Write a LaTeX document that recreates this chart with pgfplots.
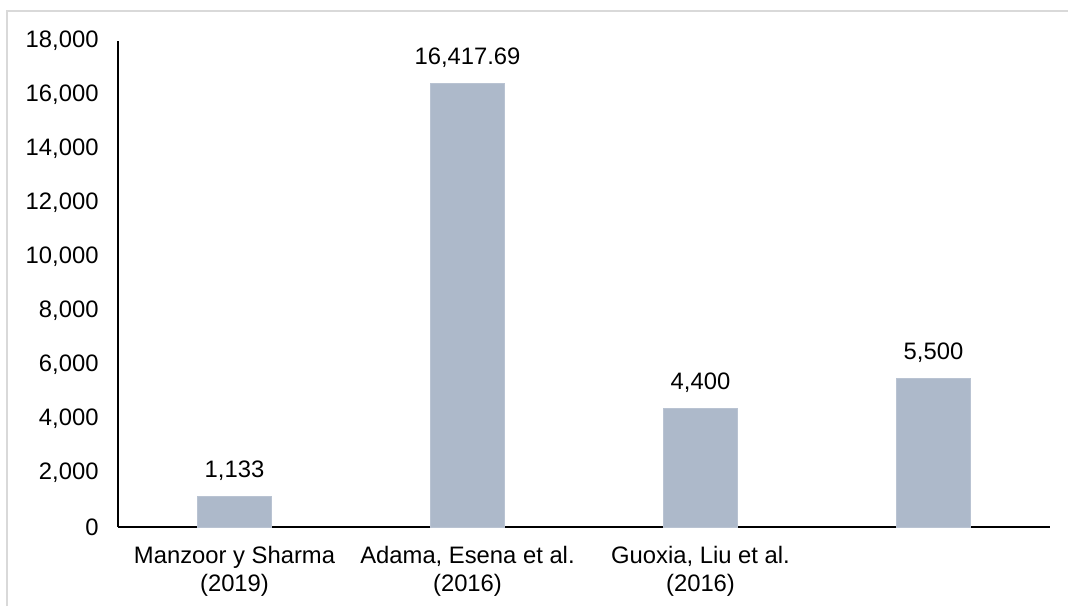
\documentclass[border=0pt]{standalone}
\usepackage{pgfplots}
\pgfplotsset{compat=1.18}
\usepackage{fontspec}
\setmainfont{Liberation Sans}
\definecolor{barfill}{HTML}{ADB9CA}
\definecolor{frameline}{HTML}{D9D9D9}

\begin{document}
\begin{tikzpicture}[font=\fontsize{11.9}{14}\selectfont]
  % page area and the chart frame
  \path[use as bounding box] (0,0) rectangle (534pt,303pt);
  \draw[frameline, line width=0.6pt] (3.5pt,0) -- (3.5pt,297.5pt) -- (534pt,297.5pt);
  \begin{axis}[
    at={(59pt,39.5pt)}, anchor=origin,
    scale only axis,
    width=466pt, height=243pt,
    xmin=0, xmax=4,
    ymin=0, ymax=18000,
    axis x line*=bottom,
    axis y line*=left,
    axis line style={black, line width=0.8pt},
    xtick={0.5,1.5,2.5,3.5},
    xticklabels={{Manzoor y Sharma\\(2019)},{Adama, Esena et al.\\(2016)},{Guoxia, Liu et al.\\(2016)},{}},
    xticklabel style={align=center, yshift=-6pt},
    ytick={0,2000,...,18000},
    scaled y ticks=false,
    major tick length=0pt,
    yticklabel style={xshift=-6.2pt, /pgf/number format/.cd, fixed, precision=0, 1000 sep={,}, assume math mode=true},
    ybar,
    bar width=37pt,
    nodes near coords,
    point meta=y,
    nodes near coords style={anchor=base, yshift=9.5pt, /pgf/number format/.cd, fixed, precision=2, 1000 sep={,}, assume math mode=true},
  ]
    \addplot[fill=barfill, draw=barfill!85!white, line width=0.4pt] coordinates {
      (0.5,1133) (1.5,16417.69) (2.5,4400) (3.5,5500)
    };
  \end{axis}
\end{tikzpicture}
\end{document}
